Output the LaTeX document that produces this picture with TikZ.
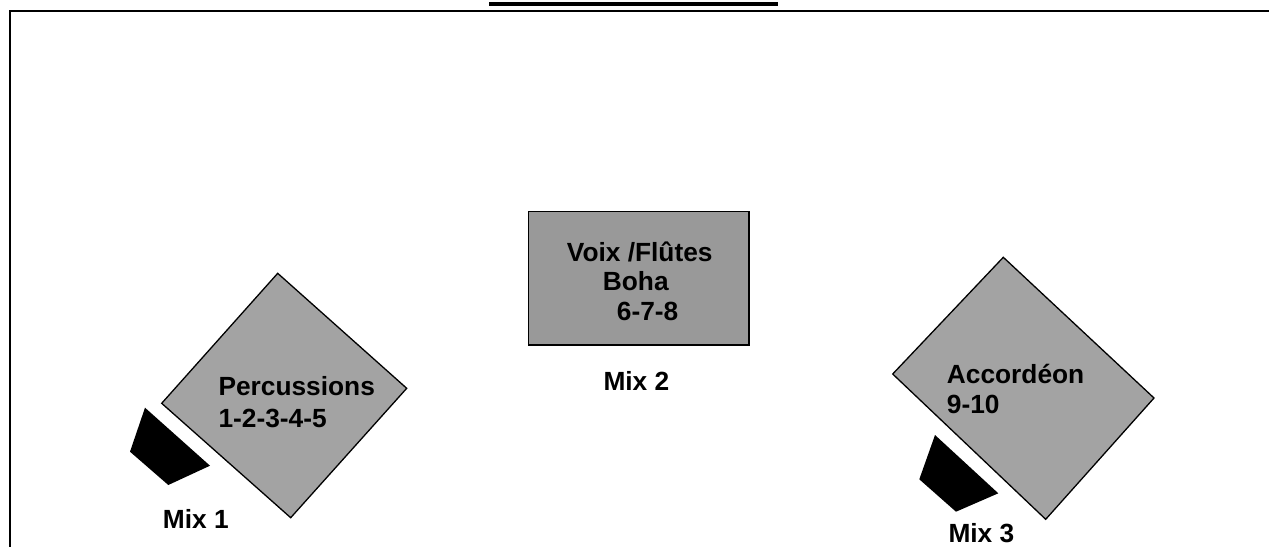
\documentclass[tikz,border=0pt]{standalone}
\usepackage{fontspec}
\setmainfont{Liberation Sans}
\begin{document}
\begin{tikzpicture}[x=1pt,y=-1pt,
  lbl/.style={anchor=base west,inner sep=0pt,font=\fontsize{26.3}{30}\selectfont\bfseries},
  zone/.style={draw=black,line width=1.3pt,fill=black!36},
  spk/.style={fill=black,draw=none}]
\useasboundingbox (0,0) rectangle (1269,547);
% frame and title underline
\fill[black] (489,2) rectangle (778,6);
\draw[line width=2pt] (1269,11) -- (10,11) -- (10,547);
% Percussions
\draw[zone] (277.7,273.3) -- (406.7,388.3) -- (290.7,517.7) -- (161.7,403.3) -- cycle;
\fill[spk] (145,407.7) -- (130,451.7) -- (168.3,485) -- (210,465.7) -- cycle;
\node[lbl] (perc1) at (218.3,395.7) {Percussions};
\node[lbl] (perc2) at (218.3,427.5) {1-2-3-4-5};
\node[lbl] (mix1) at (162.7,528.3) {Mix 1};
% Voix / Flutes
\draw[zone,fill=black!40] (528.3,211.7) rectangle (749,345);
\node[lbl] (voix1) at (566.7,261.7) {Voix /Flûtes};
\node[lbl] (voix2) at (602.7,290.5) {Boha};
\node[lbl] (voix3) at (616.7,320) {6-7-8};
\node[lbl] (mix2) at (603.3,390.7) {Mix 2};
% Accordeon
\draw[zone] (1003.3,257.3) -- (1154,398) -- (1045.7,519.3) -- (892.7,374) -- cycle;
\fill[spk] (935,435) -- (919.3,479.3) -- (956,511.7) -- (998.3,493.3) -- cycle;
\node[lbl] (acc1) at (946.7,383.3) {Accordéon};
\node[lbl] (acc2) at (946.7,413.3) {9-10};
\node[lbl] (mix3) at (948.3,542) {Mix 3};
\end{tikzpicture}
\end{document}
